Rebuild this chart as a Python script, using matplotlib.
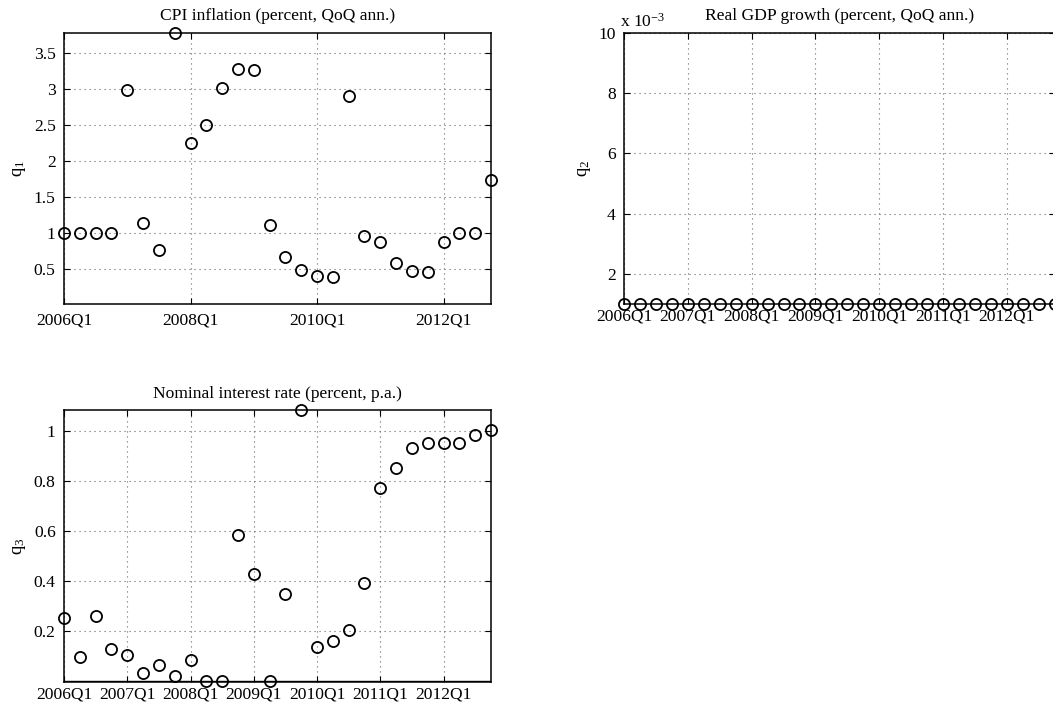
import numpy as np
import matplotlib
matplotlib.use('Agg')
import matplotlib.pyplot as plt
from matplotlib.ticker import FuncFormatter

plt.rcParams['font.family'] = ['Liberation Serif', 'DejaVu Serif']
plt.rcParams['mathtext.fontset'] = 'custom'
plt.rcParams['mathtext.rm'] = 'Liberation Serif'
plt.rcParams['mathtext.default'] = 'regular'
plt.rcParams['font.size'] = 12.6

# 2006Q1 .. 2012Q4
quarters = np.arange(28)

cpi = [1.0, 1.0, 1.0, 1.0, 2.99, 1.14, 0.775, 3.78, 2.26, 2.51, 3.02, 3.28, 3.27, 1.12,
       0.67, 0.49, 0.41, 0.39, 2.90, 0.97, 0.88, 0.59, 0.48, 0.47, 0.88, 1.0, 1.0, 1.74]
gdp = [0.001] * 28
rate = [0.252, 0.095, 0.257, 0.127, 0.103, 0.031, 0.063, 0.020, 0.081, 0.0, 0.0, 0.583,
        0.426, 0.0, 0.349, 1.085, 0.136, 0.157, 0.201, 0.391, 0.774, 0.854, 0.933, 0.955,
        0.955, 0.955, 0.984, 1.004]

ticks_2y = [0, 8, 16, 24]
labels_2y = ['2006Q1', '2008Q1', '2010Q1', '2012Q1']
ticks_1y = [0, 4, 8, 12, 16, 20, 24]
labels_1y = ['2006Q1', '2007Q1', '2008Q1', '2009Q1', '2010Q1', '2011Q1', '2012Q1']


def style(ax):
    ax.tick_params(direction='in', top=True, right=True, length=4, width=0.8, pad=6)
    ax.grid(True, linestyle=(0, (1, 3.5)), color='#666666', linewidth=0.8)
    for s in ax.spines.values():
        s.set_linewidth(1.1)
    ax.set_xlim(0, 27)


def dots(ax, y):
    ax.plot(quarters, y, 'o', mfc='none', mec='black', ms=8, mew=1.3, clip_on=False, zorder=5)


fig = plt.figure(figsize=(10.53, 7.08), dpi=100)

# CPI
ax1 = fig.add_axes([0.0608, 0.5706, 0.4055, 0.3828])
style(ax1)
dots(ax1, cpi)
ax1.set_ylim(0.02, 3.78)
ax1.set_yticks([0.5, 1, 1.5, 2, 2.5, 3, 3.5])
ax1.set_yticklabels(['0.5', '1', '1.5', '2', '2.5', '3', '3.5'])
ax1.set_xticks(ticks_2y)
ax1.set_xticklabels(labels_2y)
ax1.set_title('CPI inflation (percent, QoQ ann.)', fontsize=12.6, pad=9)
ax1.set_ylabel('q$_1$', fontsize=13.5)

# GDP
ax2 = fig.add_axes([0.5926, 0.5706, 0.409, 0.3828])
style(ax2)
dots(ax2, gdp)
ax2.set_ylim(0.001, 0.01)
ax2.set_yticks([0.002, 0.004, 0.006, 0.008, 0.010])
ax2.yaxis.set_major_formatter(FuncFormatter(lambda v, p: '%g' % round(v * 1000, 6)))
ax2.set_xticks(ticks_1y)
ax2.set_xticklabels(labels_1y)
ax2.tick_params(axis='x', pad=3)
ax2.set_title('Real GDP growth (percent, QoQ ann.)', fontsize=12.6, pad=9)
ax2.set_ylabel('q$_2$', fontsize=13.5)
ax2.text(-0.01, 1.01, 'x 10$^{-3}$', transform=ax2.transAxes, fontsize=12.6, va='bottom', ha='left')

# interest rate
ax3 = fig.add_axes([0.0608, 0.0367, 0.4055, 0.384])
style(ax3)
ax3.axhline(0, color='black', linewidth=1.0, zorder=4)
dots(ax3, rate)
ax3.set_ylim(-0.006, 1.085)
ax3.set_yticks([0.2, 0.4, 0.6, 0.8, 1])
ax3.set_yticklabels(['0.2', '0.4', '0.6', '0.8', '1'])
ax3.set_xticks(ticks_1y)
ax3.set_xticklabels(labels_1y)
ax3.tick_params(axis='x', pad=3)
ax3.set_title('Nominal interest rate (percent, p.a.)', fontsize=12.6, pad=9)
ax3.set_ylabel('q$_3$', fontsize=13.5)

fig.savefig('out.png', dpi=100)
